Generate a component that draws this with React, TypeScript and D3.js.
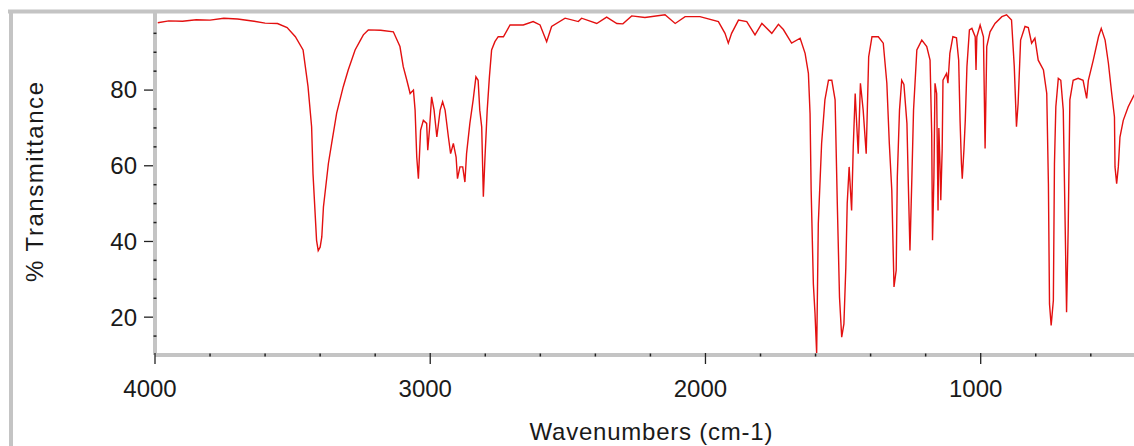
import React from "react";
import * as d3 from "d3";

const WIDTH = 1134;
const HEIGHT = 446;
const MARGIN = { top: 14.4, right: 0, bottom: 91, left: 155 };

// spectrum: wavenumber (cm-1) and %T
const wavenumbers = [
  3990, 3950, 3900, 3850, 3800, 3750, 3700, 3640, 3600, 3555, 3520, 3490, 3462, 3444, 3431, 3426,
  3413, 3407, 3400, 3394, 3388, 3370, 3358, 3340, 3316, 3298, 3273, 3255, 3243, 3225, 3180, 3134,
  3110, 3098, 3085, 3073, 3061, 3055, 3049, 3043, 3035, 3025, 3013, 3009, 3003, 2995, 2986, 2976,
  2964, 2955, 2946, 2934, 2926, 2916, 2906, 2901, 2892, 2882, 2874, 2868, 2856, 2844, 2834, 2826,
  2820, 2813, 2807, 2801, 2793, 2785, 2777, 2765, 2753, 2734, 2710, 2662, 2626, 2601, 2577, 2559,
  2510, 2462, 2450, 2395, 2359, 2322, 2300, 2268, 2220, 2147, 2110, 2074, 2020, 1953, 1929, 1917,
  1905, 1880, 1850, 1820, 1795, 1759, 1735, 1717, 1687, 1656, 1638, 1626, 1620, 1616, 1608, 1602,
  1596, 1590, 1578, 1566, 1553, 1541, 1529, 1521, 1513, 1505, 1497, 1490, 1485, 1478, 1469, 1463,
  1456, 1450, 1445, 1437, 1427, 1416, 1407, 1395, 1372, 1354, 1341, 1332, 1323, 1315, 1307, 1303,
  1295, 1287, 1279, 1268, 1263, 1257, 1250, 1244, 1232, 1214, 1196, 1184, 1178, 1175, 1170, 1166,
  1160, 1155, 1152, 1148, 1145, 1140, 1137, 1124, 1119, 1112, 1101, 1088, 1080, 1075, 1070, 1067,
  1061, 1056, 1050, 1041, 1032, 1020, 1017, 1014, 1002, 990, 984, 978, 966, 948, 923, 906,
  888, 878, 870, 864, 855, 839, 827, 815, 803, 791, 772, 760, 754, 750, 744, 736,
  732, 727, 718, 709, 700, 693, 688, 682, 676, 664, 646, 628, 615, 609, 591, 572,
  562, 548, 536, 524, 514, 512, 506, 500, 494, 482, 464, 446, 440,
];

const transmittance = [
  97.8, 98.3, 98.2, 98.6, 98.5, 99.0, 98.8, 98.2, 97.7, 97.6, 96.5, 94.1, 90.6, 80.9, 70.3, 58,
  40.3, 37.6, 38.5, 41.2, 49.1, 60.6, 66, 73.9, 80.9, 85.3, 90.6, 93, 94.6, 95.9, 95.8, 95.4,
  91.5, 86.2, 82.6, 79.1, 80, 74.7, 62.3, 56.6, 69.4, 72, 71.2, 64.1, 69.4, 78.2, 74.7, 67.6,
  74.7, 76.9, 74.7, 67.6, 63.2, 65.9, 62.3, 56.6, 59.7, 59.7, 55.7, 63.2, 71.2, 77.4, 83.5, 82.6,
  74.7, 70.3, 51.8, 62.3, 74.7, 83.5, 90.6, 92.8, 94.1, 94.1, 97.2, 97.2, 98.1, 97.2, 92.8, 96.8,
  99, 98.1, 99, 97.6, 99.3, 97.6, 97.5, 99.6, 99.2, 99.9, 97.6, 99.4, 99.4, 98.1, 95, 92.4,
  95, 98.5, 98.1, 94.6, 97.6, 95, 97.4, 96, 92.4, 93.7, 89.7, 84.4, 73.8, 53.5, 28.8, 21,
  10.4, 44.7, 65.9, 77.4, 82.6, 82.6, 77.4, 50, 25.3, 14.7, 18.2, 33.2, 50, 59.7, 48.2, 65,
  79.1, 70.3, 63.2, 81.8, 74.7, 63.2, 88.8, 94.1, 94.1, 92.4, 81.8, 65.9, 53.5, 28, 32.4, 57,
  74.7, 82.6, 81.5, 71.2, 55.3, 37.6, 57, 74.7, 90.6, 93.2, 91.5, 87.9, 68.5, 40.3, 57, 81.8,
  79.1, 48.2, 70, 60.6, 50.9, 64.1, 82.6, 84.4, 81.8, 89.7, 94.1, 93.8, 87.9, 72, 60.6, 56.6,
  64.1, 72, 86.2, 95.9, 96.3, 94.1, 85.3, 94.1, 97.2, 94.1, 64.6, 91.5, 95.4, 97.6, 99.4, 99.9,
  98.5, 86.2, 70.3, 76.5, 93.2, 96.8, 96.5, 92.4, 93.7, 87.9, 85.3, 79.1, 55.3, 23.5, 17.8, 24.4,
  60.6, 75.6, 83.1, 82.6, 74.7, 43.8, 21.3, 43.8, 77.4, 82.6, 83.1, 82.6, 77.8, 82.5, 87.9, 94.1,
  96.3, 93.2, 87.1, 79.1, 72.9, 59.7, 55.3, 59.7, 67.6, 72, 75.6, 78.2, 79,
];

const xMajorTicks = [4000, 3000, 2000, 1000];
const xTickLabels = ["4000", "3000", "2000", "1000"];
const xMinorTicks = [3800, 3600, 3400, 3200, 2800, 2600, 2400, 2200, 1800, 1600, 1400, 1200, 800, 600];
const yMajorTicks = [20, 40, 60, 80];
const yTickLabels = ["20", "40", "60", "80"];
const yMinorTicks = [15, 25, 30, 35, 45, 50, 55, 65, 70, 75, 85, 90, 95];

const FONT = "'Liberation Sans', Arial, sans-serif";
const AXIS_GRAY = "#c4c4c4";

export default function App() {
  const boundsWidth = WIDTH - MARGIN.left - MARGIN.right;
  const boundsHeight = HEIGHT - MARGIN.top - MARGIN.bottom;

  const xScale = d3.scaleLinear().domain([4000, 443]).range([0, boundsWidth]);
  const yScale = d3.scaleLinear().domain([10, 100]).range([boundsHeight, 0]);

  const points: [number, number][] = wavenumbers.map((w, i) => [w, transmittance[i]]);
  const linePath = d3
    .line<[number, number]>()
    .x((d) => xScale(d[0]))
    .y((d) => yScale(d[1]))(points);

  return (
    <svg
      width={WIDTH}
      height={HEIGHT}
      style={{ position: "absolute", left: 0, top: 0, background: "#fff" }}
    >
      {/* outer window frame */}
      <line x1={8} x2={WIDTH} y1={11.5} y2={11.5} stroke={AXIS_GRAY} strokeWidth={4} />
      <line x1={11} x2={11} y1={10} y2={HEIGHT} stroke={AXIS_GRAY} strokeWidth={4} />

      <g transform={`translate(${MARGIN.left},${MARGIN.top})`}>
        <path d={linePath ?? ""} fill="none" stroke="#e31010" strokeWidth={1.4} />

        {/* y axis */}
        <line x1={0} x2={0} y1={-2} y2={boundsHeight} stroke={AXIS_GRAY} strokeWidth={4} />
        {yMinorTicks.map((t) => (
          <line key={t} x1={-1.5} x2={1.5} y1={yScale(t)} y2={yScale(t)} stroke="#222" strokeWidth={1.5} />
        ))}
        {yMajorTicks.map((t, i) => (
          <g key={t} transform={`translate(0,${yScale(t)})`}>
            <line x1={-11} x2={-2} stroke="#222" strokeWidth={1.3} />
            <text
              x={-18}
              dy="0.35em"
              textAnchor="end"
              fontFamily={FONT}
              fontSize={24}
              fill="#1a1a1a"
            >
              {yTickLabels[i]}
            </text>
          </g>
        ))}

        {/* x axis */}
        <line x1={0} x2={boundsWidth} y1={boundsHeight} y2={boundsHeight} stroke={AXIS_GRAY} strokeWidth={4} />
        {xMinorTicks.map((t) => (
          <line
            key={t}
            x1={xScale(t)}
            x2={xScale(t)}
            y1={boundsHeight - 1.5}
            y2={boundsHeight + 1.5}
            stroke="#222"
            strokeWidth={1.5}
          />
        ))}
        {xMajorTicks.map((t, i) => (
          <g key={t} transform={`translate(${xScale(t)},${boundsHeight})`}>
            <line y1={-2} y2={9} stroke="#222" strokeWidth={1.3} />
            <text x={-5} y={42} textAnchor="middle" fontFamily={FONT} fontSize={24} fill="#1a1a1a">
              {xTickLabels[i]}
            </text>
          </g>
        ))}
      </g>

      {/* axis titles */}
      <text
        x={651}
        y={440}
        textAnchor="middle"
        fontFamily={FONT}
        fontSize={24}
        textLength={243}
        lengthAdjust="spacing"
        fill="#1a1a1a"
      >
        Wavenumbers (cm-1)
      </text>
      <text
        transform="translate(43,182) rotate(-90)"
        textAnchor="middle"
        fontFamily={FONT}
        fontSize={24}
        textLength={200}
        lengthAdjust="spacing"
        fill="#1a1a1a"
      >
        % Transmittance
      </text>
    </svg>
  );
}
